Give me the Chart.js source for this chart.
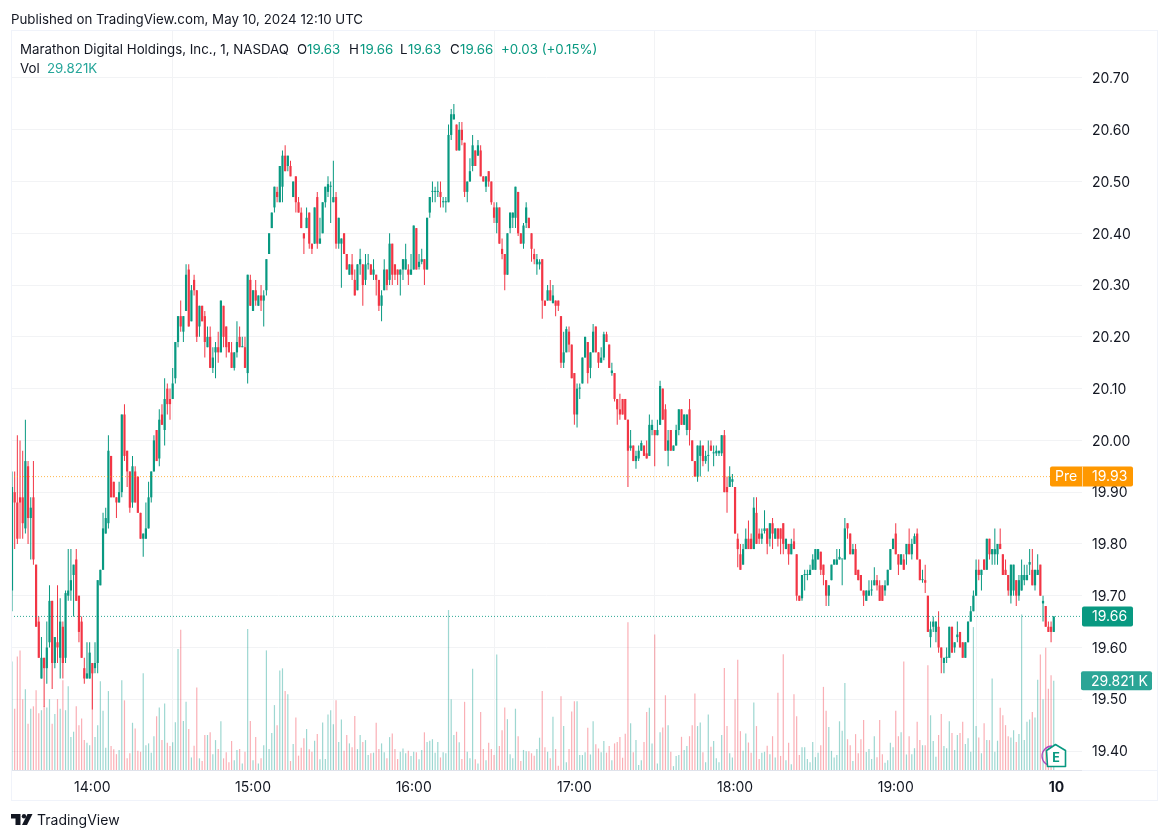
<!DOCTYPE html>
<html>
<head>
<meta charset="utf-8">
<title>MARA 1 min</title>
<script src="https://cdn.jsdelivr.net/npm/chart.js@4/dist/chart.umd.min.js"></script>
<style>
body { margin: 0; background: #fff; font-family: Inter, "Noto Sans", sans-serif; color: #131722; }
#wrap { position: relative; width: 1168px; height: 840px; overflow: hidden; }
canvas { position: absolute; left: 0; top: 0; }
.txt { position: absolute; font-size: 13.3px; line-height: 16px; white-space: nowrap; }
.up { color: #089981; }
.vol { color: #26a69a; }
</style>
</head>
<body>
<div id="wrap">
<canvas id="myChart" width="1168" height="840"></canvas>
<div class="txt" style="left:11px;top:11px">Published on TradingView.com, May 10, 2024 12:10 UTC</div>
<div class="txt" style="left:20px;top:41px">Marathon Digital Holdings, Inc., 1, NASDAQ</div>
<div class="txt" style="left:297px;top:41px">O</div>
<div class="txt up" style="left:307px;top:41px">19.63</div>
<div class="txt" style="left:349px;top:41px">H</div>
<div class="txt up" style="left:360px;top:41px">19.66</div>
<div class="txt" style="left:400px;top:41px">L</div>
<div class="txt up" style="left:408px;top:41px">19.63</div>
<div class="txt" style="left:450px;top:41px">C</div>
<div class="txt up" style="left:460px;top:41px">19.66</div>
<div class="txt up" style="left:501px;top:41px">+0.03 (+0.15%)</div>
<div class="txt" style="left:20px;top:60px">Vol</div>
<div class="txt vol" style="left:47px;top:60px">29.821K</div>
<svg style="position:absolute;left:1040px;top:740px" width="30" height="30">
  <path d="M12 6 A10 10 0 0 0 12 26" fill="none" stroke="#ab47bc" stroke-width="1.3"/>
  <path d="M6.5 10.5 L15.5 4.5 L25.5 10.5 L25.5 26.5 L7.5 26.5 Z" fill="#fff" stroke="#089981" stroke-width="1.6" stroke-linejoin="round"/>
  <text x="16" y="21.5" text-anchor="middle" font-family="Inter" font-size="12.5" font-weight="700" fill="#089981">E</text>
</svg>
<svg style="position:absolute;left:11px;top:813px" width="24" height="14">
  <path d="M0 1 H9.5 V12 H4.5 V5.5 H0 Z" fill="#131722"/>
  <circle cx="13" cy="3.2" r="2.2" fill="#131722"/>
  <path d="M16.5 1 H21.5 L16 12 H11 Z" fill="#131722"/>
</svg>
<div class="txt" style="left:37px;top:812px;font-size:14px">TradingView</div>
</div>

<script>
// minute bars, 13:30 to 19:59
var opens = [
19.71,19.90,19.88,19.89,19.89,19.83,19.95,19.85,19.89,19.76,
19.65,19.54,19.58,19.56,19.61,19.69,19.57,19.61,19.58,19.64,
19.58,19.70,19.71,19.74,19.77,19.70,19.65,19.56,19.54,19.54,
19.57,19.56,19.57,19.72,19.75,19.82,19.84,19.97,19.92,19.89,
19.88,19.90,20.05,19.98,19.94,19.88,19.94,19.93,19.86,19.81,
19.81,19.83,19.89,19.94,20.02,19.965,20.05,20.02,20.10,20.08,
20.08,20.12,20.19,20.24,20.21,20.25,20.33,20.23,20.31,20.29,
20.22,20.26,20.24,20.18,20.20,20.14,20.17,20.18,20.17,20.26,
20.22,20.19,20.17,20.14,20.17,20.20,20.18,20.18,20.13,20.31,
20.25,20.29,20.26,20.28,20.27,20.29,20.36,20.41,20.45,20.48,
20.46,20.49,20.55,20.53,20.53,20.47,20.51,20.46,20.44,20.40,
20.41,20.44,20.38,20.38,20.47,20.38,20.40,20.46,20.48,20.49,
20.46,20.47,20.38,20.38,20.40,20.36,20.32,20.34,20.31,20.29,
20.34,20.34,20.31,20.34,20.34,20.32,20.32,20.31,20.26,20.29,
20.33,20.31,20.38,20.34,20.33,20.32,20.33,20.33,20.33,20.32,
20.33,20.41,20.335,20.345,20.35,20.33,20.44,20.48,20.48,20.48,
20.48,20.46,20.46,20.46,20.59,20.62,20.61,20.56,20.60,20.575,
20.48,20.50,20.53,20.56,20.55,20.56,20.51,20.49,20.52,20.50,
20.45,20.42,20.45,20.37,20.36,20.32,20.41,20.43,20.43,20.48,
20.40,20.38,20.42,20.43,20.40,20.36,20.34,20.34,20.35,20.27,
20.27,20.29,20.265,20.27,20.27,20.24,20.15,20.17,20.21,20.185,
20.13,20.05,20.10,20.11,20.16,20.19,20.14,20.17,20.22,20.17,
20.15,20.16,20.205,20.185,20.13,20.13,20.08,20.06,20.08,20.08,
20.04,19.985,19.99,19.96,19.965,19.98,19.99,19.975,19.97,20.02,
20.02,20.01,20.03,20.10,20.06,19.98,20.02,19.98,19.99,20.02,
20.06,20.03,20.02,20.06,20.00,19.96,19.93,19.97,19.99,19.96,
19.97,19.99,19.975,19.975,19.975,19.975,20.01,19.91,19.91,19.92,
19.91,19.81,19.78,19.76,19.79,19.81,19.81,19.79,19.86,19.82,
19.81,19.825,19.83,19.81,19.84,19.81,19.83,19.83,19.84,19.79,
19.80,19.78,19.805,19.78,19.70,19.695,19.74,19.74,19.74,19.75,
19.75,19.77,19.785,19.76,19.73,19.70,19.73,19.76,19.76,19.77,
19.77,19.77,19.84,19.82,19.78,19.79,19.75,19.74,19.71,19.69,
19.70,19.71,19.72,19.73,19.72,19.72,19.71,19.72,19.75,19.79,
19.82,19.78,19.76,19.77,19.78,19.80,19.78,19.80,19.82,19.77,
19.73,19.73,19.70,19.62,19.64,19.63,19.64,19.60,19.57,19.58,
19.58,19.64,19.60,19.62,19.63,19.61,19.58,19.61,19.65,19.67,
19.70,19.75,19.74,19.77,19.75,19.81,19.78,19.78,19.78,19.80,
19.78,19.75,19.74,19.70,19.71,19.73,19.70,19.71,19.73,19.73,
19.76,19.75,19.72,19.74,19.76,19.685,19.68,19.64,19.64,19.63
];
var highs = [
19.94,19.94,20.01,20.00,19.98,20.04,19.96,19.89,19.96,19.76,
19.66,19.62,19.58,19.65,19.72,19.69,19.62,19.72,19.695,19.65,
19.71,19.79,19.79,19.76,19.79,19.70,19.66,19.58,19.61,19.61,
19.57,19.61,19.73,19.75,19.86,19.87,20.01,19.97,19.92,19.89,
19.92,20.05,20.07,19.98,19.94,19.97,19.95,19.93,19.86,19.82,
19.88,19.92,19.94,20.01,20.02,20.06,20.07,20.12,20.11,20.10,
20.14,20.19,20.24,20.27,20.24,20.34,20.34,20.30,20.32,20.29,
20.26,20.26,20.25,20.22,20.22,20.18,20.19,20.21,20.27,20.26,
20.22,20.19,20.19,20.17,20.23,20.22,20.20,20.20,20.32,20.32,
20.29,20.31,20.28,20.30,20.29,20.35,20.40,20.44,20.49,20.49,
20.53,20.56,20.57,20.55,20.54,20.50,20.51,20.47,20.45,20.40,
20.45,20.44,20.38,20.45,20.48,20.43,20.46,20.49,20.51,20.50,
20.54,20.48,20.43,20.39,20.40,20.36,20.34,20.36,20.33,20.34,
20.37,20.34,20.36,20.36,20.34,20.35,20.32,20.31,20.29,20.35,
20.33,20.40,20.38,20.34,20.33,20.33,20.35,20.38,20.34,20.36,
20.415,20.41,20.36,20.37,20.35,20.43,20.47,20.50,20.49,20.50,
20.50,20.47,20.47,20.61,20.64,20.65,20.61,20.615,20.615,20.575,
20.50,20.545,20.59,20.56,20.58,20.57,20.51,20.51,20.52,20.50,
20.46,20.46,20.45,20.39,20.36,20.40,20.44,20.44,20.49,20.48,
20.40,20.42,20.46,20.43,20.40,20.37,20.36,20.35,20.35,20.27,
20.30,20.31,20.30,20.27,20.27,20.24,20.21,20.22,20.22,20.185,
20.13,20.11,20.11,20.16,20.20,20.19,20.17,20.225,20.22,20.17,
20.18,20.21,20.21,20.185,20.15,20.13,20.08,20.09,20.08,20.08,
20.04,20.02,19.99,19.98,19.99,20.00,19.99,20.00,20.05,20.04,
20.02,20.04,20.115,20.10,20.07,20.02,20.02,19.99,20.03,20.06,
20.06,20.05,20.05,20.08,20.00,19.96,19.99,20.00,19.99,19.98,
20.00,20.00,19.99,19.99,19.98,20.01,20.02,19.93,19.95,19.935,
19.91,19.82,19.80,19.80,19.83,19.845,19.82,19.89,19.89,19.83,
19.83,19.865,19.83,19.84,19.85,19.83,19.83,19.83,19.84,19.81,
19.80,19.81,19.83,19.78,19.70,19.74,19.75,19.75,19.76,19.78,
19.79,19.79,19.785,19.76,19.73,19.72,19.76,19.77,19.79,19.79,
19.77,19.85,19.84,19.82,19.80,19.80,19.75,19.74,19.71,19.71,
19.73,19.73,19.755,19.74,19.73,19.72,19.73,19.75,19.79,19.81,
19.84,19.78,19.78,19.78,19.80,19.83,19.81,19.82,19.83,19.77,
19.75,19.76,19.70,19.65,19.66,19.65,19.67,19.60,19.58,19.60,
19.64,19.64,19.61,19.65,19.63,19.61,19.61,19.65,19.68,19.71,
19.77,19.77,19.75,19.77,19.81,19.81,19.79,19.83,19.80,19.83,
19.78,19.77,19.74,19.76,19.76,19.73,19.74,19.77,19.76,19.76,
19.79,19.79,19.75,19.78,19.76,19.70,19.68,19.65,19.65,19.66
];
var lows = [
19.67,19.79,19.80,19.81,19.81,19.82,19.80,19.77,19.76,19.64,
19.58,19.54,19.485,19.53,19.60,19.52,19.56,19.57,19.54,19.54,
19.57,19.69,19.69,19.66,19.69,19.61,19.58,19.53,19.54,19.54,
19.48,19.55,19.55,19.72,19.75,19.82,19.83,19.89,19.89,19.85,
19.88,19.89,19.96,19.91,19.86,19.87,19.88,19.86,19.81,19.775,
19.81,19.83,19.88,19.94,19.96,19.95,20.03,19.99,20.05,20.04,
20.08,20.11,20.18,20.21,20.19,20.25,20.22,20.23,20.28,20.19,
20.20,20.23,20.16,20.18,20.14,20.13,20.12,20.15,20.17,20.18,
20.16,20.17,20.14,20.135,20.16,20.18,20.18,20.14,20.11,20.26,
20.25,20.26,20.26,20.25,20.22,20.28,20.36,20.41,20.44,20.46,
20.46,20.46,20.52,20.52,20.51,20.47,20.44,20.44,20.41,20.36,
20.41,20.37,20.36,20.38,20.37,20.38,20.40,20.45,20.47,20.42,
20.46,20.37,20.37,20.295,20.36,20.33,20.32,20.31,20.28,20.29,
20.32,20.26,20.30,20.33,20.32,20.31,20.28,20.25,20.23,20.29,
20.29,20.30,20.30,20.31,20.30,20.28,20.31,20.33,20.30,20.32,
20.33,20.33,20.33,20.34,20.30,20.33,20.43,20.46,20.46,20.47,
20.45,20.45,20.44,20.46,20.58,20.62,20.56,20.56,20.57,20.47,
20.46,20.50,20.52,20.53,20.55,20.51,20.50,20.48,20.49,20.455,
20.42,20.40,20.38,20.35,20.29,20.32,20.40,20.41,20.41,20.395,
20.38,20.37,20.41,20.41,20.345,20.34,20.32,20.33,20.235,20.26,
20.27,20.27,20.265,20.24,20.25,20.14,20.14,20.17,20.17,20.12,
20.03,20.025,20.08,20.11,20.16,20.11,20.12,20.17,20.17,20.14,
20.15,20.155,20.19,20.14,20.125,20.075,20.03,20.04,20.05,20.04,
19.91,19.98,19.96,19.945,19.96,19.98,19.97,19.965,19.97,20.01,
19.95,20.01,20.03,20.04,19.98,19.95,19.98,19.98,19.99,20.01,
20.03,20.03,20.01,19.99,19.96,19.93,19.92,19.93,19.95,19.955,
19.94,19.98,19.95,19.97,19.97,19.97,19.90,19.86,19.91,19.91,
19.82,19.755,19.75,19.76,19.79,19.79,19.79,19.79,19.80,19.80,
19.80,19.82,19.78,19.795,19.79,19.81,19.795,19.78,19.78,19.79,
19.76,19.78,19.79,19.69,19.69,19.69,19.71,19.73,19.74,19.75,
19.75,19.77,19.74,19.72,19.68,19.68,19.73,19.76,19.76,19.77,
19.72,19.77,19.81,19.78,19.78,19.74,19.73,19.71,19.68,19.69,
19.70,19.70,19.72,19.71,19.69,19.69,19.70,19.72,19.75,19.79,
19.78,19.74,19.76,19.75,19.76,19.78,19.77,19.80,19.77,19.73,
19.725,19.705,19.63,19.60,19.63,19.61,19.59,19.55,19.55,19.57,
19.58,19.59,19.59,19.61,19.60,19.58,19.58,19.61,19.65,19.67,
19.70,19.73,19.71,19.75,19.75,19.77,19.76,19.76,19.76,19.79,
19.74,19.74,19.70,19.685,19.70,19.68,19.69,19.71,19.72,19.73,
19.74,19.72,19.71,19.74,19.70,19.65,19.64,19.63,19.61,19.63
];
var closes = [
19.91,19.88,19.81,19.88,19.84,19.96,19.85,19.87,19.77,19.64,
19.58,19.58,19.56,19.60,19.69,19.57,19.62,19.60,19.65,19.57,
19.705,19.71,19.73,19.76,19.69,19.63,19.58,19.54,19.55,19.59,
19.55,19.57,19.73,19.75,19.83,19.85,19.98,19.89,19.89,19.88,
19.90,20.05,19.97,19.94,19.87,19.95,19.88,19.86,19.81,19.82,
19.83,19.89,19.94,20.00,19.96,20.04,20.03,20.08,20.07,20.07,
20.11,20.19,20.24,20.22,20.24,20.32,20.22,20.29,20.29,20.20,
20.26,20.23,20.19,20.20,20.14,20.16,20.18,20.17,20.27,20.20,
20.18,20.17,20.14,20.17,20.19,20.18,20.18,20.14,20.32,20.26,
20.29,20.27,20.28,20.27,20.28,20.35,20.40,20.44,20.49,20.47,
20.53,20.55,20.52,20.55,20.51,20.50,20.46,20.44,20.41,20.39,
20.43,20.38,20.37,20.45,20.38,20.39,20.46,20.49,20.495,20.49,
20.47,20.38,20.43,20.39,20.36,20.33,20.34,20.32,20.28,20.34,
20.35,20.30,20.34,20.34,20.32,20.33,20.31,20.26,20.28,20.33,
20.30,20.38,20.32,20.32,20.32,20.33,20.35,20.35,20.32,20.33,
20.415,20.33,20.345,20.35,20.33,20.43,20.47,20.48,20.48,20.48,
20.47,20.46,20.46,20.59,20.63,20.63,20.56,20.60,20.58,20.48,
20.50,20.52,20.57,20.53,20.57,20.51,20.50,20.51,20.50,20.46,
20.43,20.45,20.38,20.36,20.32,20.40,20.44,20.44,20.49,20.40,
20.38,20.415,20.45,20.41,20.37,20.35,20.35,20.345,20.27,20.26,
20.29,20.27,20.28,20.26,20.26,20.15,20.17,20.215,20.185,20.12,
20.05,20.10,20.10,20.16,20.20,20.13,20.17,20.21,20.17,20.15,
20.16,20.205,20.19,20.14,20.135,20.08,20.06,20.05,20.05,20.04,
19.98,19.99,19.96,19.97,19.98,19.995,19.97,19.965,20.03,20.03,
20.01,20.02,20.105,20.04,19.98,20.00,19.98,19.99,20.02,20.06,
20.03,20.05,20.05,20.02,19.96,19.93,19.99,19.99,19.96,19.97,
19.97,19.98,19.975,19.98,19.98,20.01,19.90,19.90,19.93,19.925,
19.82,19.79,19.75,19.79,19.81,19.79,19.79,19.87,19.80,19.81,
19.82,19.83,19.80,19.84,19.82,19.83,19.81,19.81,19.80,19.81,
19.78,19.80,19.79,19.70,19.69,19.74,19.74,19.74,19.75,19.77,
19.79,19.79,19.75,19.74,19.70,19.72,19.76,19.77,19.77,19.775,
19.77,19.83,19.83,19.78,19.79,19.74,19.73,19.71,19.70,19.71,
19.71,19.71,19.73,19.72,19.69,19.69,19.72,19.75,19.79,19.81,
19.78,19.76,19.78,19.75,19.80,19.78,19.80,19.815,19.77,19.73,
19.73,19.725,19.63,19.635,19.65,19.65,19.60,19.58,19.58,19.58,
19.64,19.59,19.61,19.625,19.60,19.58,19.61,19.65,19.67,19.70,
19.75,19.74,19.75,19.75,19.81,19.78,19.79,19.79,19.80,19.79,
19.74,19.74,19.71,19.76,19.76,19.70,19.73,19.74,19.74,19.74,
19.765,19.72,19.75,19.75,19.70,19.69,19.64,19.63,19.63,19.66
];
// volume in thousands
var volumes = [
36.3,20.5,38,40,23.7,27,15.5,20.5,21.3,26.7,
19,20,21.3,20.9,23.7,15.5,18.7,23.7,20.5,30,
20,28,11,12.8,21.3,15,17.2,10,9.1,8.3,
35,11,15,29.7,19.8,7.4,26.4,8,6.9,5.3,
6.7,30,23.3,3.9,5.6,15.8,13.9,6.4,6.1,32.4,
8.3,8.9,5.8,11.3,18,20.9,10,22.2,9.1,8,
9.3,16,40.5,46.9,16.4,22.8,13.7,4.2,8.1,27.6,
3.9,3,11.7,11.7,12.6,5.3,10,7,16.3,3.9,
5.9,2.6,9.7,3.3,6.7,7,2.2,6.1,47.2,16.4,
3.3,11,2.2,3.9,8.3,40,7,12.4,21.7,15,
33.3,34,26.4,25.3,3,8.7,17.6,4.8,7.4,10.6,
13.7,6.9,6.1,9.8,12,3.6,15.9,3.7,18.6,20,
15.3,23.3,9.4,16.9,6.4,11.7,8.9,7.6,18.1,7,
11.7,9.4,10,5,5.6,5.8,15.8,7,8.9,5.9,
3.9,11,12.2,7,3.7,6.1,7.2,5.6,6.4,4.7,
6.1,5.9,3.6,6.7,12.6,9.4,9.8,10.3,5.8,9.4,
4.2,5.9,5.6,53.5,23.7,11.7,12.8,9.3,3.7,22.8,
6.1,3.9,33.9,3.6,2.2,19.4,7,3.3,9.1,7,
5,38.6,8,13.3,20.9,17,5.3,3.9,20.5,11.3,
3,6.7,6.3,6.3,5.6,4.8,7,10.8,26.4,7.6,
6.1,3.9,17.8,7,1.4,24.7,14.7,2.6,7,19.6,
23,23,5,5,5.9,14.1,5.2,16.3,8.6,7.2,
5.9,9.7,5.8,8,3.3,8.9,9.4,11,4.1,12.1,
49.4,15.6,5.9,10,1.7,3.3,9.4,19.4,20.8,8.9,
45.3,2.2,12.6,14.2,25,15,6.1,1.3,4.7,5,
11.1,6.7,8,11.3,15,25.6,14.7,15.9,5.9,2.6,
18.6,7.8,9.7,3.9,2.6,11.7,34.1,14.7,5.6,4.2,
23.7,36.9,13,6.4,12.2,9.2,5.8,22.6,14.7,3.7,
5.8,6.1,8.1,5.3,11.3,4.2,25.8,4.7,38.7,3.3,
9.1,1.9,25.3,18,5,7.6,7.6,3.7,2.6,9.4,
4.3,5.8,8.3,27.8,19.8,14.4,6.4,4.2,5,16.3,
13.1,29.1,10.3,8.3,3,12,5.6,10.3,16.7,6,
7,3.7,11.3,4.3,16.7,5.3,2.4,3.3,9.1,7.6,
19.8,11.3,12.6,36.3,5.2,11.3,5.3,7.3,16.1,10,
8.3,8.3,35,18.3,9.7,4.4,11.7,18.7,8,7.3,
16.3,12.4,6.7,11.7,12.4,16.1,8.7,10.6,6.1,47.8,
14.7,10.9,5.6,15.6,10,10,30.6,6.1,9.8,20.8,
18.3,15,11.3,10.9,13.3,9.4,12,52,10,16.1,
16.9,19.4,17.6,30.2,38.6,23.7,40.9,27.2,31.7,29.821
];
var priceTicks = [19.40,19.50,19.60,19.70,19.80,19.90,20.00,20.10,20.20,20.30,20.40,20.50,20.60,20.70];
var timeTicks = [30,90,150,210,270,330,390];
var timeLabels = ["14:00","15:00","16:00","17:00","18:00","19:00","10"];
var prePrice = 19.93;
var lastPrice = 19.66;

var upColor = "#089981";
var downColor = "#f23645";
var gridColor = "#f2f3f5";

var wickData = [], bodyData = [], volData = [], barColors = [], volColors = [];
for (var i = 0; i < opens.length; i++) {
    var up = closes[i] >= opens[i];
    wickData.push({x: i, y: [lows[i], highs[i]]});
    bodyData.push({x: i, y: [opens[i], closes[i]]});
    volData.push({x: i, y: volumes[i]});
    barColors.push(up ? upColor : downColor);
    volColors.push(up ? "rgba(38,166,154,0.45)" : "rgba(242,54,69,0.4)");
}

function pill(ctx, x, y, w, h, color, text, textX) {
    ctx.fillStyle = color;
    ctx.beginPath();
    ctx.roundRect(x, y - h / 2, w, h, 2);
    ctx.fill();
    ctx.fillStyle = "#fff";
    ctx.textBaseline = "middle";
    ctx.textAlign = "left";
    ctx.fillText(text, textX, y + 0.5);
}

// price labels on the right scale and the chart frame
var overlay = {
    id: "overlay",
    afterDraw: function(chart) {
        var ctx = chart.ctx;
        var y = chart.scales.y, yVol = chart.scales.yVol;
        ctx.save();
        ctx.strokeStyle = "#f0f3fa";
        ctx.lineWidth = 1;
        ctx.strokeRect(11.5, 30.5, 1146, 770);
        ctx.beginPath();
        ctx.moveTo(1082, 770.5);
        ctx.lineTo(1157, 770.5);
        ctx.stroke();
        ctx.font = "14px Inter";
        var py = y.getPixelForValue(prePrice);
        pill(ctx, 1050, py, 83, 20, "#ff9800", "Pre", 1055);
        ctx.fillStyle = "rgba(255,255,255,0.6)";
        ctx.fillRect(1082, py - 10, 1, 20);
        ctx.fillStyle = "#fff";
        ctx.fillText(prePrice.toFixed(2), 1092, py + 0.5);
        pill(ctx, 1082, y.getPixelForValue(lastPrice), 51, 20, upColor, lastPrice.toFixed(2), 1092);
        pill(ctx, 1081, yVol.getPixelForValue(volumes[volumes.length - 1]), 71, 19, "#2ba596", "29.821 K", 1091);
        ctx.restore();
    }
};

Chart.defaults.font.family = "Inter, 'Noto Sans', sans-serif";

var myChart = new Chart(document.getElementById("myChart").getContext("2d"), {
    type: "bar",
    data: {
        datasets: [
            {type: "line", data: [{x: -0.37, y: lastPrice}, {x: 399.55, y: lastPrice}], borderColor: "rgba(8,153,129,0.85)", borderWidth: 1, borderDash: [1, 2], pointRadius: 0, yAxisID: "y", order: 0},
            {type: "line", data: [{x: -0.37, y: prePrice}, {x: 387.6, y: prePrice}], borderColor: "rgba(255,152,0,0.7)", borderWidth: 1, borderDash: [1, 2], pointRadius: 0, yAxisID: "y", order: 0},
            {data: bodyData, backgroundColor: barColors, barThickness: 2.2, minBarLength: 1, grouped: false, inflateAmount: 0, yAxisID: "y", order: 1},
            {data: wickData, backgroundColor: barColors, barThickness: 1, grouped: false, inflateAmount: 0, yAxisID: "y", order: 2},
            {data: volData, backgroundColor: volColors, barThickness: 1.2, grouped: false, inflateAmount: 0, yAxisID: "yVol", order: 3}
        ]
    },
    options: {
        responsive: false,
        animation: false,
        layout: {padding: {left: 11, right: 11, top: 30, bottom: 40}},
        plugins: {legend: {display: false}, tooltip: {enabled: false}},
        scales: {
            x: {
                type: "linear",
                min: -0.37,
                max: 399.55,
                offset: false,
                afterBuildTicks: function(axis) {
                    axis.ticks = timeTicks.map(function(v) { return {value: v}; });
                },
                afterFit: function(axis) { axis.height = 30; },
                grid: {color: gridColor, drawTicks: false},
                border: {color: "#e0e3eb"},
                ticks: {
                    autoSkip: false,
                    maxRotation: 0,
                    padding: 9,
                    color: "#131722",
                    font: function(c) {
                        return c.index == timeTicks.length - 1 ? {size: 14, weight: "bold"} : {size: 14};
                    },
                    callback: function(value) {
                        return timeLabels[timeTicks.indexOf(value)];
                    }
                }
            },
            y: {
                position: "right",
                min: 19.3633,
                max: 20.7927,
                afterBuildTicks: function(axis) {
                    axis.ticks = priceTicks.map(function(v) { return {value: v}; });
                },
                afterFit: function(axis) { axis.width = 75; },
                grid: {color: gridColor, drawTicks: false},
                border: {display: false},
                ticks: {
                    padding: 10,
                    labelOffset: 1,
                    color: "#131722",
                    font: {size: 14},
                    callback: function(value) { return value.toFixed(2); }
                }
            },
            yVol: {
                display: false,
                min: 0,
                max: 247.5
            }
        }
    },
    plugins: [overlay]
});
</script>
</body>
</html>
